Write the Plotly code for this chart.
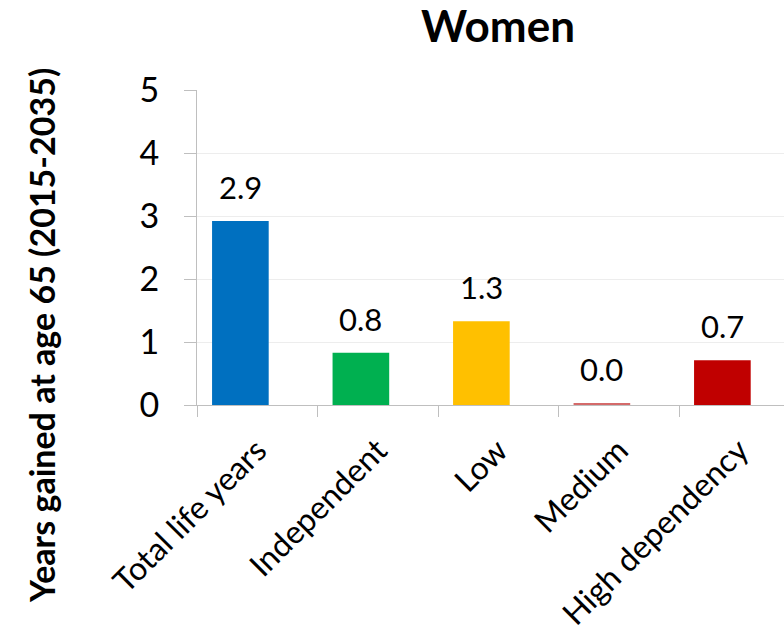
import plotly.graph_objects as go

# Years of life gained at age 65, women, 2015-2035, by dependency level
categories = ["Total life years", "Independent", "Low", "Medium", "High dependency"]
years_gained = [2.92, 0.83, 1.33, 0.03, 0.71]
bar_colors = ["#0070C0", "#00B050", "#FFC000", "#D46A6A", "#C00000"]
y_ticks = [0, 1, 2, 3, 4, 5]

FONT = "Lato, 'Open Sans', sans-serif"
W, H = 784, 633
L, T, B = 197, 90, 228

fig = go.Figure()
fig.add_trace(go.Bar(
    x=categories,
    y=years_gained,
    marker=dict(color=bar_colors, line=dict(width=0)),
    width=0.47,
    offset=-0.375,
    showlegend=False,
    hoverinfo="x+y",
))

# value labels above each bar, aligned to the shifted bar centre
for cat, val in zip(categories, years_gained):
    fig.add_annotation(
        x=cat, y=val, xref="x", yref="y",
        text=f"{val:.1f}", showarrow=False,
        xanchor="center", yanchor="bottom",
        xshift=-17, yshift=13,
        font=dict(family=FONT, size=31, color="#000000"),
    )

fig.add_annotation(
    text="<b>Women</b>", xref="paper", yref="paper",
    x=(498 - L) / (W - L), y=1 + (90 - 25) / (H - T - B),
    xanchor="center", yanchor="middle", showarrow=False,
    font=dict(family=FONT, size=44, color="#000000"),
)

fig.add_annotation(
    text="<b>Years gained at age 65 (2015-2035)</b>", xref="paper", yref="paper",
    x=-(L - 41) / (W - L), y=1 - (336 - T) / (H - T - B),
    xanchor="center", yanchor="middle", textangle=-90, showarrow=False,
    font=dict(family=FONT, size=34, color="#000000"),
)

fig.update_xaxes(
    type="category",
    automargin=False,
    range=[-0.5, -0.5 + (W - L) / 120.5],
    tickson="boundaries",
    ticks="outside", ticklen=11, tickwidth=1, tickcolor="#BFBFBF",
    tickangle=-45,
    ticklabelstandoff=13,
    tickfont=dict(family=FONT, size=32, color="#000000"),
    showline=True, linecolor="#BFBFBF", linewidth=1,
    showgrid=False, zeroline=False,
)
fig.update_yaxes(
    automargin=False,
    range=[0, 5],
    tickvals=y_ticks,
    ticks="outside", ticklen=12, tickwidth=1, tickcolor="#BFBFBF",
    ticklabelstandoff=18,
    tickfont=dict(family=FONT, size=34, color="#000000"),
    showline=True, linecolor="#BFBFBF", linewidth=1,
    showgrid=True, gridcolor="#EDEDED", gridwidth=1,
    zeroline=False,
)

fig.update_layout(
    width=W, height=H,
    margin=dict(l=L, r=0, t=T, b=B, pad=0, autoexpand=False),
    paper_bgcolor="#FFFFFF", plot_bgcolor="#FFFFFF",
    bargap=0.5,
)

fig.write_html("out.html")
